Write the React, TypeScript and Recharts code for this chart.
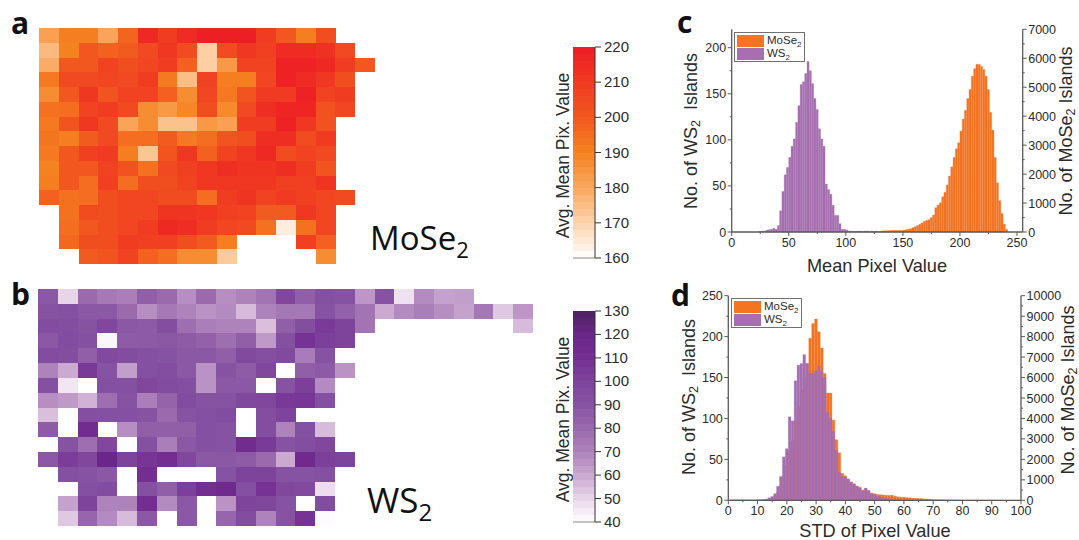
import { BarChart, Bar, XAxis, YAxis, Cell, Legend } from "recharts"

const n = null

// avg mean pixel value per tile, panel a
const moseGrid: (number | null)[][] = [
  [182, 191, 191, 181, 197, 216, 209, 215, 219, 219, 219, 209, 200, 191, 203, n, n],
  [176, 190, 200, 198, 199, 205, 211, 204, 171, 204, 211, 208, 215, 215, 213, 205, n],
  [179, 200, 200, 207, 203, 206, 209, 198, 171, 184, 207, 207, 218, 218, 216, 209, 200],
  [192, 205, 205, 206, 205, 209, 192, 175, 207, 191, 191, 206, 218, 215, 211, 203, n],
  [187, 200, 211, 201, 207, 207, 198, 187, 206, 192, 201, 210, 210, 218, 207, 209, n],
  [194, 195, 207, 209, 205, 187, 184, 189, 203, 188, 205, 214, 217, 217, 202, 206, n],
  [192, 201, 211, 205, 181, 187, 174, 174, 184, 182, 209, 209, 218, 211, 202, n, n],
  [193, 191, 199, 205, 195, 195, 199, 192, 195, 201, 203, 214, 214, 204, 210, n, n],
  [192, 200, 208, 210, 191, 173, 201, 211, 198, 207, 211, 216, 204, 207, 205, n, n],
  [190, 200, 200, 207, 202, 194, 205, 208, 211, 214, 212, 212, 214, 209, 201, n, n],
  [191, 200, 195, 208, 195, 203, 203, 207, 211, 211, 211, 211, 208, 208, 212, n, n],
  [198, 194, 195, 203, 206, 206, 204, 204, 195, 209, 212, 207, 210, 208, 206, 205, n],
  [n, 194, 204, 203, 206, 206, 212, 212, 211, 208, 207, 199, 199, 211, 206, n, n],
  [n, 195, 200, 203, 206, 209, 216, 214, 209, 206, 205, 194, 164, 194, 206, n, n],
  [n, 196, 203, 203, 209, 208, 208, 203, 199, 191, n, n, n, 208, 198, n, n],
  [n, n, 199, 201, 207, 198, 195, 187, 187, 172, n, n, n, n, 187, n, n],
]

// avg mean pixel value per tile, panel b
const ws2Grid: (number | null)[][] = [
  [88, 50, 80, 74, 72, 85, 80, 67, 80, 67, 70, 76, 98, 85, 92, 90, 65, 90, 47, 68, 62, 63, n, n, n],
  [90, 92, 88, 88, 80, 67, 74, 70, 66, 68, 56, 70, 75, 75, 90, 84, 76, 60, 68, 72, 67, 62, 75, 53, 65],
  [95, 94, 90, 98, 88, 87, 94, 78, 72, 70, 70, 55, 85, 94, 104, 100, 76, n, n, n, n, n, n, n, 56],
  [88, 95, 92, 42, 86, 87, 88, 86, 84, 78, 85, 64, 92, 108, 102, 100, n, n, n, n, n, n, n, n, n],
  [95, 94, 85, 96, 95, 92, 90, 88, 88, 85, 96, 93, 96, 73, 90, n, n, n, n, n, n, n, n, n, n],
  [70, 60, 105, 90, 63, 92, 94, 88, 66, 90, 86, 98, n, 85, 87, 66, n, n, n, n, n, n, n, n, n],
  [92, 46, n, 92, 92, 98, 95, 93, 66, 88, 88, n, 90, 102, 68, n, n, n, n, n, n, n, n, n, n],
  [67, 64, 58, 78, 90, 72, 83, 95, 90, 90, 97, 98, 105, 106, 92, n, n, n, n, n, n, n, n, n, n],
  [55, n, 93, 92, 92, 90, 80, 90, 92, 95, n, 94, 100, n, n, n, n, n, n, n, n, n, n, n, n],
  [86, n, 112, n, 67, 85, 85, 85, 92, 90, n, 94, 70, 92, 56, n, n, n, n, n, n, n, n, n, n],
  [n, 90, 78, 98, n, 92, 72, 88, 92, 90, 112, 104, 90, 94, 98, n, n, n, n, n, n, n, n, n, n],
  [88, 103, 98, 120, 100, 107, 110, 98, 88, 88, 86, 80, 60, 115, 102, 100, n, n, n, n, n, n, n, n, n],
  [n, 92, 90, 88, n, 110, n, n, n, 90, 100, 100, 90, 90, 92, n, n, n, n, n, n, n, n, n, n],
  [n, n, 92, 95, n, 92, 85, 102, 110, 115, 92, 108, 98, 96, 48, n, n, n, n, n, n, n, n, n, n],
  [n, 62, 100, 70, 70, 110, 68, 88, n, 66, 100, 98, 90, n, 95, n, n, n, n, n, n, n, n, n, n],
  [n, 53, 82, 68, 56, 88, n, 88, n, 82, 95, 70, 90, 108, 41, n, n, n, n, n, n, n, n, n, n],
]

// colour scale stops, panel a and b
const moseStops: [number, string][] = [
  [160, "#ffffff"], [170, "#fdd3aa"], [180, "#faa860"], [190, "#f58220"],
  [200, "#f2571f"], [210, "#f03a22"], [220, "#ed1c24"],
]
const ws2Stops: [number, string][] = [
  [40, "#ffffff"], [50, "#e8d5e9"], [60, "#cba9d1"], [70, "#ae83bc"], [80, "#9a6aad"],
  [90, "#8653a3"], [100, "#7e449c"], [110, "#742e92"], [120, "#6b2689"], [130, "#4e2160"],
]

// panel c, 2 wide bins: centres 1, 3, 5 ... 249
const meanWs2 = [
  0, 0, 0, 0, 0, 0, 0, 0, 0, 0, 0, 0, 0.5, 1, 1, 2, 2.5, 3, 4, 3, 7, 23, 44, 62, 70, 81, 93, 101, 119, 137,
  160, 163, 172, 185, 175, 161, 145, 133, 112, 101, 93, 52, 46, 41, 29, 18, 18, 9, 3, 3, 2, 1, 1, 0.5, 0.5,
  1, 1, 0.5, 1, 1, 0.5, 1, 0.5, 1, 0.5, 0.5, 0.5, 0.5, 0, 0, 0, 0, 0, 0, 0, 0, 0, 0, 0, 0, 0, 0, 0, 0, 0,
  0, 0, 0, 0, 0, 0, 0, 0, 0, 0, 0, 0, 0, 0, 0, 0, 0, 0, 0, 0, 0, 0, 0, 0, 0, 0, 0, 0, 0, 0, 0, 0, 0, 0, 0, 0,
]
const meanMose = [
  0, 0, 0, 0, 0, 0, 0, 0, 0, 0, 0, 0, 0, 0, 0, 0, 0, 0, 0, 0, 0, 0, 0, 0, 0, 0, 0, 0, 0, 0, 0, 0, 0,
  0, 0, 0, 0, 0, 0, 0, 0, 0, 0, 0, 0, 0, 0, 0, 0, 0, 0, 0, 0, 0, 0, 0, 0, 0, 0, 0, 0, 0, 0, 0, 0, 0,
  40, 45, 45, 50, 50, 55, 55, 55, 55, 60, 80, 95, 115, 150, 185, 225, 265, 310, 370, 400, 420, 495, 585,
  840, 930, 1010, 1220, 1370, 1620, 1930, 2250, 2575, 2875, 3080, 3480, 3900, 4200, 4610, 4920, 5380,
  5640, 5790, 5790, 5720, 5610, 5380, 4920, 4130, 3520, 2575, 1700, 1080, 640, 275, 90, 25, 10, 5, 0,
]

// panel d, 1 wide bins: centres 0, 1, 2 ... 99
const stdWs2 = [
  0, 0.3, 0.3, 0.3, 0.3, 0.3, 0.3, 0.3, 0.3, 0.3, 0.5, 0.5, 1, 1.5, 3, 4.5, 8, 17, 29, 53,
  63, 102, 97, 146, 165, 167, 178, 167, 155, 155, 158, 164, 157, 150, 107, 100, 84, 61, 34, 29,
  28, 26, 22, 20, 17, 15, 11, 15, 12, 8.5, 7, 5, 4, 3, 2.5, 2, 1.5, 1, 1, 0.5,
  0.5, 0.3, 0.3, 0.3, 0.3, 0.3, 0.3, 0.3, 0.3, 0.3, 0, 0, 0, 0, 0, 0, 0, 0, 0, 0,
  0, 0, 0, 0, 0, 0, 0, 0, 0, 0, 0, 0, 0, 0, 0, 0, 0, 0, 0, 0,
]
const stdMose = [
  0, 20, 20, 20, 20, 20, 20, 20, 20, 20, 20, 20, 20, 20, 60, 100, 200, 400, 700, 1200,
  1700, 2400, 2900, 3900, 4600, 5400, 6000, 6680, 7920, 8640, 8860, 8240, 7440, 6200, 5240, 5240, 3920, 2960, 2320, 1320,
  1200, 1040, 900, 800, 700, 640, 500, 560, 460, 340, 320, 290, 270, 260, 250, 240, 250, 200, 170, 150,
  150, 130, 120, 100, 100, 90, 85, 70, 60, 50, 40, 35, 30, 28, 25, 22, 20, 18, 16, 15,
  14, 13, 12, 11, 10, 10, 8, 8, 6, 6, 5, 5, 4, 4, 3, 3, 2, 2, 1, 1,
]

const meanTicks = [0, 25, 50, 75, 100, 125, 150, 175, 200, 225, 250]
const meanLeftTicks = [0, 25, 50, 75, 100, 125, 150, 175, 200]
const meanRightTicks = [0, 500, 1000, 1500, 2000, 2500, 3000, 3500, 4000, 4500, 5000, 5500, 6000, 6500, 7000]
const stdTicks = [0, 5, 10, 15, 20, 25, 30, 35, 40, 45, 50, 55, 60, 65, 70, 75, 80, 85, 90, 95, 100]
const stdLeftTicks = [0, 25, 50, 75, 100, 125, 150, 175, 200, 225, 250]
const stdRightTicks = [
  0, 500, 1000, 1500, 2000, 2500, 3000, 3500, 4000, 4500, 5000, 5500, 6000, 6500, 7000, 7500, 8000, 8500, 9000, 9500, 10000,
]
const moseBarTicks = [160, 170, 180, 190, 200, 210, 220]
const ws2BarTicks = [40, 50, 60, 70, 80, 90, 100, 110, 120, 130]

const ORANGE = "#f47420"
const PURPLE = "#a66fb0"
const SPINE = "#5a5a5a"
const TEXT = "#2b2b2b"
const SANS = "'Liberation Sans', Arial, sans-serif"

function hexToRgb(hex: string) {
  return [1, 3, 5].map((i) => parseInt(hex.slice(i, i + 2), 16))
}

function colorFor(stops: [number, string][], value: number) {
  for (let i = 1; i < stops.length; i++) {
    if (value <= stops[i][0]) {
      const t = (value - stops[i - 1][0]) / (stops[i][0] - stops[i - 1][0])
      const a = hexToRgb(stops[i - 1][1])
      const b = hexToRgb(stops[i][1])
      return `rgb(${a.map((c, k) => Math.round(c + (b[k] - c) * t)).join(",")})`
    }
  }
  return stops[stops.length - 1][1]
}

function Heatmap({ grid, stops, left, top, width, height }: {
  grid: (number | null)[][]
  stops: [number, string][]
  left: number
  top: number
  width: number
  height: number
}) {
  const table = grid[0].map((_, col) => {
    const row: Record<string, number> = { col }
    grid.forEach((_, r) => { row[`r${r}`] = 1 })
    return row
  })
  return (
    <div style={{ position: "absolute", left, top }}>
      <BarChart width={width} height={height} data={table} barCategoryGap={0} margin={{ top: 0, right: 0, bottom: 0, left: 0 }}>
        <XAxis dataKey="col" hide />
        <YAxis hide reversed domain={[0, grid.length]} />
        {grid.map((cells, r) => (
          <Bar key={r} dataKey={`r${r}`} stackId="tiles" isAnimationActive={false} shapeRendering="crispEdges">
            {cells.map((v, c) => (
              <Cell key={c} fill={v === null ? "transparent" : colorFor(stops, v)} />
            ))}
          </Bar>
        ))}
      </BarChart>
    </div>
  )
}

function AxisTick({ x, y, payload, side, major, long = 4, short = 2, size = 12.5 }: any) {
  const isMajor = payload.value % major === 0
  const len = isMajor ? long : short
  const label = isMajor ? String(payload.value) : ""
  if (side === "bottom") {
    return (
      <g>
        <line x1={x} x2={x} y1={y} y2={y + len} stroke={SPINE} strokeWidth={1} />
        <text x={x} y={y + len + size * 0.88} textAnchor="middle" fontSize={size} fontFamily={SANS} fill={TEXT}>{label}</text>
      </g>
    )
  }
  const dir = side === "left" ? -1 : 1
  return (
    <g>
      <line x1={x} x2={x + dir * len} y1={y} y2={y} stroke={SPINE} strokeWidth={1} />
      <text x={x + dir * (len + 1.5)} y={y + size * 0.36} textAnchor={side === "left" ? "end" : "start"} fontSize={size} fontFamily={SANS} fill={TEXT}>{label}</text>
    </g>
  )
}

function ColorBar({ stops, ticks, left, top, plotHeight }: {
  stops: [number, string][]
  ticks: number[]
  left: number
  top: number
  plotHeight: number
}) {
  const lo = ticks[0]
  const hi = ticks[ticks.length - 1]
  const stepSize = (hi - lo) / 30
  const steps = Array.from({ length: 30 }, (_, i) => i)
  const row: Record<string, number | string> = { name: "bar" }
  steps.forEach((i) => { row[`s${i}`] = stepSize })
  return (
    <div style={{ position: "absolute", left, top }}>
      <BarChart width={115} height={plotHeight + 30} data={[row]} barCategoryGap={0} margin={{ top: 15, right: 0, bottom: 0, left: 33 }}>
        <XAxis dataKey="name" tick={false} tickLine={false} height={15} stroke="#8a8a8a" />
        <XAxis dataKey="name" xAxisId="cap" orientation="top" tick={false} tickLine={false} height={0} stroke="#8a8a8a" />
        <YAxis orientation="right" width={60} type="number" domain={[0, hi - lo]} ticks={ticks.map((t) => t - lo)} interval={0} tickSize={0} tickMargin={0}
          stroke="#333333"
          tick={(p: any) => (
            <g>
              <line x1={p.x} x2={p.x + 6} y1={p.y} y2={p.y} stroke="#333333" />
              <text x={p.x + 9} y={p.y + 5} fontSize={15} fontFamily={SANS} fill={TEXT}>{p.payload.value + lo}</text>
            </g>
          )} />
        <YAxis yAxisId="edge" orientation="left" width={0} tick={false} tickLine={false} stroke="#8a8a8a" domain={[0, hi - lo]} />
        {steps.map((i) => (
          <Bar key={i} dataKey={`s${i}`} stackId="steps" isAnimationActive={false} shapeRendering="crispEdges"
            fill={colorFor(stops, lo + (i + 0.5) * stepSize)} />
        ))}
        <text transform={`translate(29,${15 + plotHeight / 2 + 3}) rotate(-90)`} textAnchor="middle" fontSize={17.5} fontFamily={SANS} fill={TEXT}>
          Avg. Mean Pix. Value
        </text>
      </BarChart>
    </div>
  )
}

function HistLegend({ payload }: any) {
  return (
    <div style={{ boxSizing: "border-box", width: 71, height: 30, border: `1.5px solid #707070`, background: "#fff", padding: "1px 2px", fontFamily: SANS, fontSize: 11.5, color: TEXT, lineHeight: "13px" }}>
      {(payload ?? []).map((entry: any) => (
        <div key={entry.value} style={{ display: "flex", alignItems: "center", height: 13.5 }}>
          <span style={{ display: "inline-block", width: 27, height: 12, background: entry.color, marginRight: 3 }} />
          <span>{entry.value.slice(0, -1)}<span style={{ fontSize: 8, position: "relative", top: 3 }}>{entry.value.slice(-1)}</span></span>
        </div>
      ))}
    </div>
  )
}

function YTitle({ x, y, name, gap }: { x: number; y: number; name: string; gap: string }) {
  return (
    <text transform={`translate(${x},${y}) rotate(-90)`} textAnchor="middle" fontSize={18} fontFamily={SANS} fill={TEXT}>
      No. of {name}<tspan fontSize={12.5} dy={3}>2</tspan><tspan dy={-3}>{gap}Islands</tspan>
    </text>
  )
}

function Histogram({ left, top, width, height, plot, xs, ws2, mose, barSize, xDomain, xTicks, xMajor, leftTicks, leftMax, rightTicks, rightMax, xTitle, titles, legendPos }: any) {
  const table = xs.map((x: number, i: number) => ({ x, ws2: ws2[i], mose: mose[i] }))
  return (
    <div style={{ position: "absolute", left, top }}>
      <BarChart width={width} height={height} data={table} margin={{ top: plot.top, right: 0, bottom: 0, left: 0 }}>
        <XAxis xAxisId="b" dataKey="x" type="number" domain={xDomain} ticks={xTicks} interval={0} height={height - plot.bottom} tickSize={0} tickMargin={0} stroke={SPINE} strokeWidth={1.3}
          tick={(p: any) => <AxisTick {...p} side="bottom" major={xMajor} />} />
        <XAxis xAxisId="t" dataKey="x" type="number" domain={xDomain} orientation="top" height={0} tick={false} tickLine={false} stroke={SPINE} strokeWidth={1.3} />
        <YAxis yAxisId="l" width={plot.left} domain={[0, leftMax]} ticks={leftTicks} interval={0} tickSize={0} tickMargin={0} stroke={SPINE} strokeWidth={1.3}
          tick={(p: any) => <AxisTick {...p} side="left" major={50} />} />
        <YAxis yAxisId="r" width={width - plot.right} orientation="right" domain={[0, rightMax]} ticks={rightTicks} interval={0} tickSize={0} tickMargin={0} stroke={SPINE} strokeWidth={1.3}
          tick={(p: any) => <AxisTick {...p} side="right" major={1000} />} />
        <Legend layout="vertical" align="center" verticalAlign="middle" content={<HistLegend />}
          wrapperStyle={{ left: legendPos.x, top: legendPos.y, width: 71, height: 30 }} />
        <Bar name="MoSe2" dataKey="mose" xAxisId="t" yAxisId="r" barSize={barSize} fill={ORANGE} stroke="#f26a20" strokeWidth={0.3} isAnimationActive={false} />
        <Bar name="WS2" dataKey="ws2" xAxisId="b" yAxisId="l" barSize={barSize} fill={PURPLE} stroke="#9c64aa" strokeWidth={0.3} isAnimationActive={false} />
        <text x={titles.xx} y={titles.xy} textAnchor="middle" fontSize={18.2} fontFamily={SANS} fill={TEXT}>{xTitle}</text>
        <YTitle x={titles.lx} y={titles.ly} name="WS" gap={"\u00a0\u00a0"} />
        <YTitle x={titles.rx} y={titles.ry} name="MoSe" gap={"\u00a0"} />
      </BarChart>
    </div>
  )
}

function Tag({ x, y, size = 30, bold = true, children }: any) {
  return (
    <div style={{ position: "absolute", left: x, top: y, fontFamily: "'Open Sans', sans-serif", fontSize: size, fontWeight: bold ? 700 : 400, lineHeight: 1, color: "#111", whiteSpace: "nowrap" }}>
      {children}
    </div>
  )
}

export default function App() {
  return (
    <div style={{ position: "absolute", left: 0, top: 0, width: 1079, height: 540, background: "#fff", overflow: "hidden" }}>
      <Tag x={11} y={8}>a</Tag>
      <Tag x={11} y={279}>b</Tag>
      <Tag x={677} y={7}>c</Tag>
      <Tag x={671} y={280}>d</Tag>

      <Heatmap grid={moseGrid} stops={moseStops} left={39} top={28} width={336} height={236} />
      <Heatmap grid={ws2Grid} stops={ws2Stops} left={38} top={289} width={495} height={237} />

      <Tag x={370} y={221} size={33} bold={false}>MoSe<span style={{ fontSize: 22, position: "relative", top: 8 }}>2</span></Tag>
      <Tag x={367} y={482} size={35} bold={false}>WS<span style={{ fontSize: 24, position: "relative", top: 8 }}>2</span></Tag>

      <ColorBar stops={moseStops} ticks={moseBarTicks} left={540} top={32} plotHeight={211} />
      <ColorBar stops={ws2Stops} ticks={ws2BarTicks} left={540} top={296} plotHeight={211} />

      <Histogram left={670} top={0} width={409} height={280}
        plot={{ left: 61.7, right: 352.7, top: 29.3, bottom: 232 }}
        xs={meanWs2.map((_, i) => 2 * i + 1)} ws2={meanWs2} mose={meanMose} barSize={2.3}
        xDomain={[0, 255]} xTicks={meanTicks} xMajor={50}
        leftTicks={meanLeftTicks} leftMax={220} rightTicks={meanRightTicks} rightMax={7000}
        xTitle="Mean Pixel Value"
        titles={{ xx: 207, xy: 272, lx: 27, ly: 131, rx: 402, ry: 131 }}
        legendPos={{ x: 64, y: 32 }} />

      <Histogram left={670} top={275} width={409} height={265}
        plot={{ left: 58.3, right: 351, top: 20.7, bottom: 225.3 }}
        xs={stdWs2.map((_, i) => i)} ws2={stdWs2} mose={stdMose} barSize={2.93}
        xDomain={[0, 100]} xTicks={stdTicks} xMajor={10}
        leftTicks={stdLeftTicks} leftMax={250} rightTicks={stdRightTicks} rightMax={10000}
        xTitle="STD of Pixel Value"
        titles={{ xx: 205, xy: 262, lx: 25, ly: 122, rx: 404, ry: 115 }}
        legendPos={{ x: 61, y: 23 }} />
    </div>
  )
}
